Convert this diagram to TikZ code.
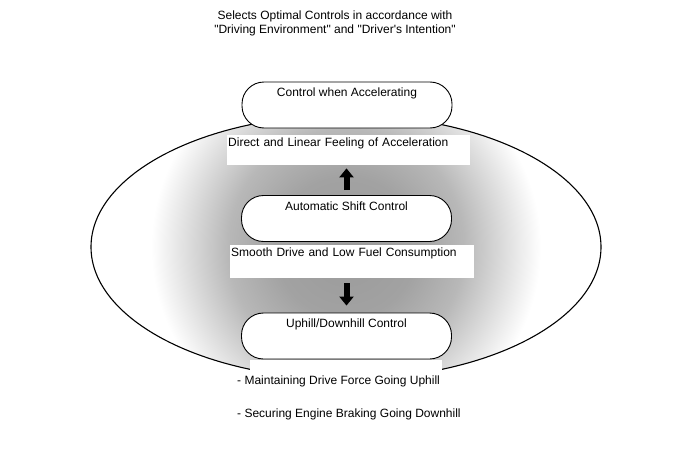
\documentclass[tikz,border=0pt]{standalone}
\usepackage{fontspec}
\setmainfont{Liberation Sans}
\usetikzlibrary{arrows.meta, positioning}
\definecolor{DGray}{RGB}{154,154,154}
\definecolor{MGray}{RGB}{162,162,162}
\definecolor{LGray}{RGB}{184,184,184}
\pgfdeclareradialshading{ovalshade}{\pgfpointorigin}{color(0bp)=(DGray); color(6.9bp)=(MGray); color(11.6bp)=(LGray); color(19.1bp)=(white); color(50bp)=(white)}

\begin{document}
\begin{tikzpicture}[x=1pt, y=-1pt,
    every node/.style={font=\fontsize{12}{14}\selectfont},
    ctrlbox/.style={draw=black, line width=0.9pt, fill=white, rounded corners=22pt,
        minimum width=210pt, inner xsep=0pt, inner ysep=5pt, text height=9.6pt, text depth=26.4pt},
    effectbox/.style={fill=white, anchor=north west, inner xsep=1pt, inner ysep=2pt,
        align=left, text height=9.5pt},
    bigarrow/.style={line width=6pt, -{Triangle[width=14pt, length=9pt]}},
    note/.style={anchor=base west, inner sep=0pt}]

    \useasboundingbox (0,0) rectangle (688,463);

    % Title
    \node[align=center, anchor=north, inner sep=0pt] (title) at (335,11)
        {Selects Optimal Controls in accordance with\\
         \textquotedbl Driving Environment\textquotedbl{} and \textquotedbl Driver\textquotesingle s Intention\textquotedbl};

    % Oval
    \begin{scope}
        \clip (346,247) ellipse [x radius=255, y radius=132];
        \shade[shading=ovalshade] (91,-8) rectangle (601,502);
    \end{scope}
    \draw[line width=1.1pt] (346,247) ellipse [x radius=255, y radius=132];
    \fill[white] (250,360) rectangle (442,382);

    % Controls
    \node[ctrlbox] (accel) at (347,105) {Control when Accelerating};
    \node[ctrlbox] (shift) at (346.5,218.5) {Automatic Shift Control};
    \node[ctrlbox] (uphill) at (346.5,336) {Uphill/Downhill Control};

    % Effects
    \node[effectbox, text width=241pt, text depth=16.5pt] (direct) at (227,135)
        {Direct and Linear Feeling of Acceleration};
    \node[effectbox, text width=242pt, text depth=19.5pt] (smooth) at (230,245)
        {Smooth Drive and Low Fuel Consumption};

    % Arrows
    \draw[bigarrow, shorten <=5pt, shorten >=3pt] (shift.north) -- (shift.north |- direct.south);
    \draw[bigarrow, shorten <=5pt, shorten >=7pt] (uphill.north |- smooth.south) -- (uphill.north);

    % Notes
    \node[note] (climb) at (237,384.5) {- Maintaining Drive Force Going Uphill};
    \node[note] (descent) at (237,417) {- Securing Engine Braking Going Downhill};

\end{tikzpicture}
\end{document}
